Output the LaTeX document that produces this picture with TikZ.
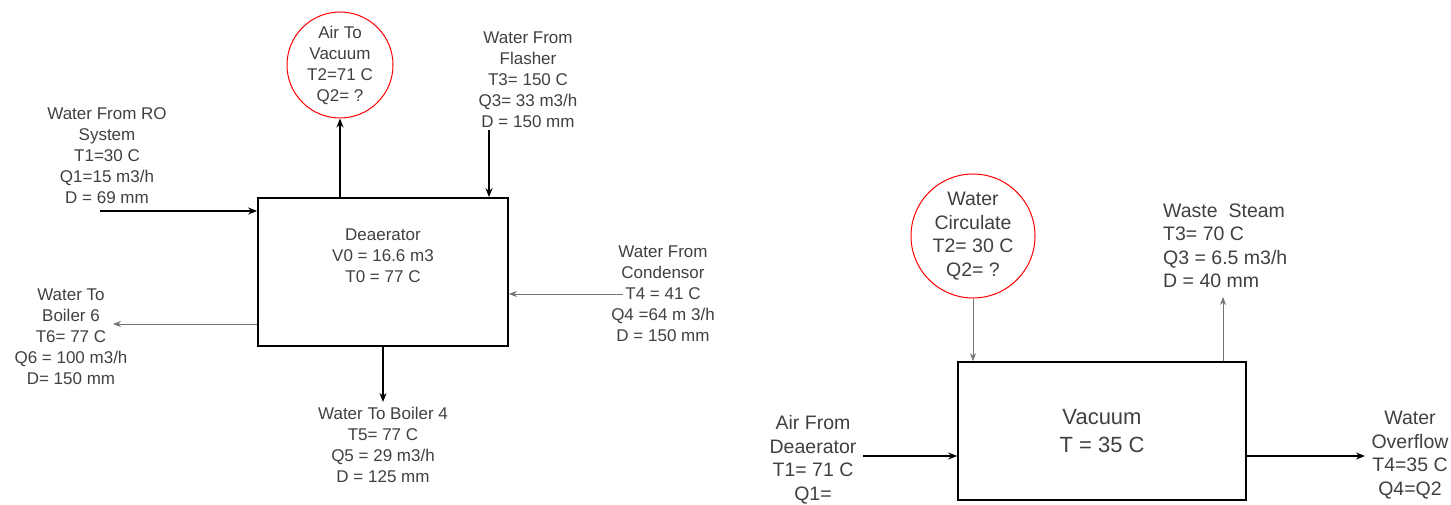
\documentclass[tikz,border=0pt]{standalone}
\usepackage{fontspec}
\setmainfont{Liberation Sans}
\usetikzlibrary{arrows.meta}
\tikzset{
  lbl/.style={align=center, inner sep=0pt, text=black!75, font=\fontsize{17}{21}\selectfont},
  rlbl/.style={align=center, inner sep=0pt, text=black!75, font=\fontsize{19.5}{23.5}\selectfont},
  unitbox/.style={draw=black, line width=1.7pt, inner sep=0pt},
  redcirc/.style={circle, draw=red, line width=1pt, inner sep=0pt},
  flow/.style={draw=black, line width=1.5pt, -{Stealth[length=9pt,width=7pt]}},
  thinflow/.style={draw=black!55, line width=1pt, -{Stealth[length=8pt,width=6pt]}}
}
\begin{document}
\begin{tikzpicture}[x=1pt,y=-1pt]
\useasboundingbox (0,0) rectangle (1451,505);

% ---------- Left: Deaerator ----------
\node[unitbox, minimum width=250pt, minimum height=148pt] (dea) at (383,272) {};
\node[lbl] (deatxt) at (383,255.5) {Deaerator\\V0 = 16.6 m3\\T0 = 77 C};

\node[redcirc, lbl, minimum size=106pt] (airv) at (340,65) {Air To\\Vacuum\\T2=71 C\\Q2= ?};
\draw[flow] (dea.north -| airv.south) -- (airv.south);

\node[lbl] (flash) at (528,79.5) {Water From\\Flasher\\T3= 150 C\\Q3= 33 m3/h\\D = 150 mm};
\coordinate (fl) at (489,130);
\draw[flow] (fl) -- (fl |- dea.north);

\node[lbl] (ro) at (107,156) {Water From RO\\System\\T1=30 C\\Q1=15 m3/h\\D = 69 mm};
\coordinate (roin) at (100,211);
\draw[flow] (roin) -- (roin -| dea.west);

\node[lbl] (b6) at (71,337) {Water To\\Boiler 6\\T6= 77 C\\Q6 = 100 m3/h\\D= 150 mm};
\coordinate (b6out) at (113,324);
\draw[thinflow] (b6out -| dea.west) -- (b6out);

\node[lbl] (b4) at (383,445) {Water To Boiler 4\\T5= 77 C\\Q5 = 29 m3/h\\D = 125 mm};
\coordinate (b4out) at (383,402);
\draw[flow] (b4out |- dea.south) -- (b4out);

\node[lbl] (cond) at (663,294) {Water From\\Condensor\\T4 = 41 C\\Q4 =64 m 3/h\\D = 150 mm};
\coordinate (cdin) at (623,294);
\draw[thinflow] (cdin) -- (cdin -| dea.east);

% ---------- Right: Vacuum ----------
\node[unitbox, minimum width=288pt, minimum height=138pt, align=center, text=black!75,
      font=\fontsize{22}{28}\selectfont] (vac) at (1102,431) {Vacuum\\T = 35 C};

\node[redcirc, rlbl, minimum size=124pt] (wc) at (973,236) {Water\\Circulate\\T2= 30 C\\Q2= ?};
\draw[thinflow] (wc.south) -- (wc.south |- vac.north);

\node[rlbl, align=left, anchor=west] (ws) at (1163,246) {Waste\ \ Steam\\T3= 70 C\\Q3 = 6.5 m3/h\\D = 40 mm};
\coordinate (wsout) at (1223,297);
\draw[thinflow] (wsout |- vac.north) -- (wsout);

\node[rlbl] (af) at (813,460) {Air From\\Deaerator\\T1= 71 C\\Q1=};
\coordinate (afin) at (863,456);
\draw[flow, line width=1.3pt] (afin) -- (afin -| vac.west);

\node[rlbl] (ov) at (1410,455) {Water\\Overflow\\T4=35 C\\Q4=Q2};
\coordinate (ovout) at (1365,456);
\draw[flow, line width=1.3pt] (ovout -| vac.east) -- (ovout);
\end{tikzpicture}
\end{document}
